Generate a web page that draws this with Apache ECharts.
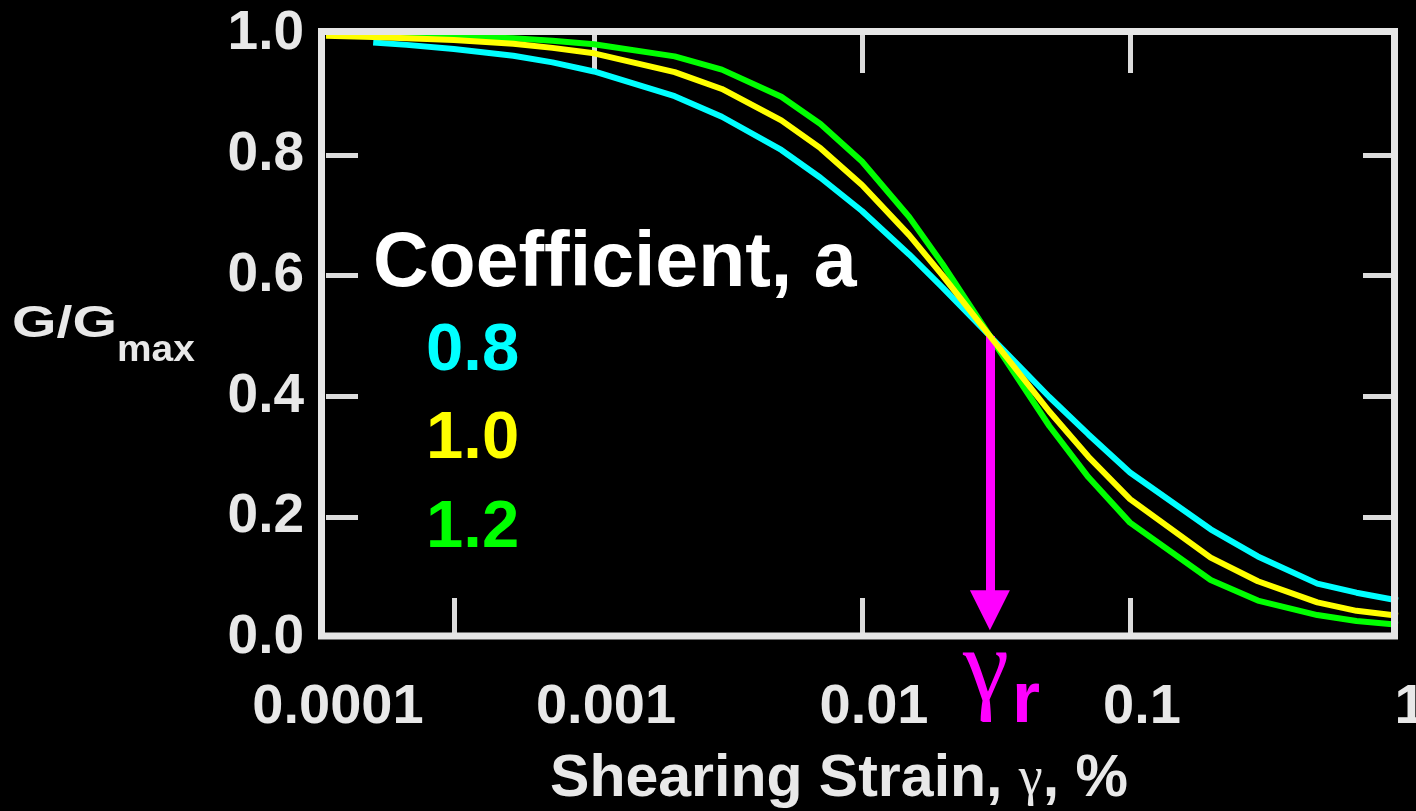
<!DOCTYPE html>
<html>
<head>
<meta charset="utf-8">
<script src="https://cdn.jsdelivr.net/npm/echarts@6/dist/echarts.min.js"></script>
<style>
html,body{margin:0;padding:0;background:#000;}
#chart{width:1416px;height:811px;}
</style>
</head>
<body>
<div id="chart"></div>
<script>
// ---- data ----
const strain = [0.0001, 0.00015, 0.0002, 0.0003, 0.0005, 0.0007, 0.001, 0.002, 0.003, 0.005, 0.007,
                0.01, 0.015, 0.02, 0.03, 0.05, 0.07, 0.1, 0.2, 0.3, 0.5, 0.7, 1];
const ratioA08 = [null, 0.986, 0.982, 0.975, 0.964, 0.953, 0.938, 0.897, 0.863, 0.808, 0.762,
                  0.707, 0.635, 0.580, 0.500, 0.399, 0.337, 0.274, 0.180, 0.135, 0.090, 0.075, 0.062];
const ratioA10 = [0.997, 0.995, 0.993, 0.990, 0.984, 0.977, 0.968, 0.937, 0.909, 0.857, 0.811,
                  0.750, 0.667, 0.600, 0.500, 0.375, 0.300, 0.230, 0.133, 0.094, 0.059, 0.045, 0.037];
const ratioA12 = [0.999, 0.998, 0.998, 0.996, 0.993, 0.989, 0.983, 0.963, 0.941, 0.896, 0.851,
                  0.789, 0.697, 0.619, 0.500, 0.351, 0.266, 0.191, 0.096, 0.062, 0.038, 0.028, 0.022];
const coefLabels = ['0.8', '1.0', '1.2'];
const xTickLabels = ['0.0001', '0.001', '0.01', '0.1', '1'];
const yTickLabels = ['0.0', '0.2', '0.4', '0.6', '0.8', '1.0'];
const bottomTicks = [0.0003, 0.01, 0.1];
const topTicks = [0.001, 0.01, 0.1];
const sideTicks = [0.2, 0.4, 0.6, 0.8];
const gammaR = 0.03;
const arrowTop = 0.5;
const arrowEnd = 0.046;

// ---- chart ----
const FONT = "'Liberation Sans', Arial, sans-serif";
const SERIF = "'Liberation Serif', 'DejaVu Serif', serif";
const GREY = '#e8e8e8';
const TICK = '#dcdcdc';
const pairs = vals => strain.map((x, i) => [x, vals[i]]);

const chart = echarts.init(document.getElementById('chart'), null, {renderer: 'canvas'});

const xBase = {
  type: 'log', logBase: 10, min: 0.0001, max: 1,
  splitLine: {show: false}, axisLine: {show: false, onZero: false},
  minorTick: {show: false}
};
const yBase = {
  type: 'value', min: 0, max: 1, interval: 0.2,
  splitLine: {show: false}, axisLine: {show: false, onZero: false}
};

chart.setOption({
  backgroundColor: '#000',
  animation: false,
  grid: {left: 326, right: 18, top: 34, bottom: 173, containLabel: false, outerBoundsMode: 'none'},
  xAxis: [
    Object.assign({}, xBase, {
      position: 'bottom',
      axisTick: {show: true, inside: true, length: 40, lineStyle: {color: TICK, width: 5},
                 customValues: bottomTicks},
      axisLabel: {
        show: true, margin: 42, color: GREY, fontSize: 56, fontWeight: 'bold', fontFamily: FONT,
        padding: [0, 0, 0, 24],
        formatter: v => xTickLabels[Math.round(Math.log10(v)) + 4]
      }
    }),
    Object.assign({}, xBase, {
      position: 'top',
      axisTick: {show: true, inside: true, length: 39, lineStyle: {color: TICK, width: 5},
                 customValues: topTicks},
      axisLabel: {show: false}
    })
  ],
  yAxis: [
    Object.assign({}, yBase, {
      position: 'left',
      axisTick: {show: true, inside: true, length: 32, lineStyle: {color: TICK, width: 5},
                 customValues: sideTicks},
      axisLabel: {
        show: true, margin: 22, color: GREY, fontSize: 55, fontWeight: 'bold', fontFamily: FONT,
        formatter: v => yTickLabels[Math.round(v * 5)]
      }
    }),
    Object.assign({}, yBase, {
      position: 'right', offset: -4,
      axisTick: {show: true, inside: true, length: 31, lineStyle: {color: TICK, width: 5},
                 customValues: sideTicks},
      axisLabel: {show: false}
    })
  ],
  series: [
    {
      name: coefLabels[0], type: 'line', data: pairs(ratioA08), xAxisIndex: 0, yAxisIndex: 0,
      showSymbol: false, symbol: 'none', smooth: false, connectNulls: false,
      lineStyle: {color: '#00ffff', width: 6}, z: 3, silent: true,
      markLine: {
        silent: true, animation: false,
        symbol: ['none', 'triangle'], symbolSize: 40,
        label: {show: false},
        lineStyle: {color: '#ff00ff', width: 9, type: 'solid'},
        itemStyle: {color: '#ff00ff'},
        emphasis: {disabled: true},
        data: [[{coord: [gammaR, arrowTop]}, {coord: [gammaR, arrowEnd]}]]
      }
    },
    {
      name: coefLabels[2], type: 'line', data: pairs(ratioA12),
      showSymbol: false, symbol: 'none', smooth: false,
      lineStyle: {color: '#00ff00', width: 6}, z: 4, silent: true
    },
    {
      name: coefLabels[1], type: 'line', data: pairs(ratioA10),
      showSymbol: false, symbol: 'none', smooth: false,
      lineStyle: {color: '#ffff00', width: 6}, z: 5, silent: true
    }
  ],
  graphic: [
    {type: 'rect', z: 100, silent: true,
     shape: {x: 321.5, y: 31.5, width: 1073, height: 604.5},
     style: {fill: 'none', stroke: '#e6e6e6', lineWidth: 7}},
    {type: 'text', x: 373, y: 265, z: 50, silent: true,
     style: {text: 'Coefficient, a', fill: '#ffffff', font: "bold 77px " + FONT, verticalAlign: 'middle', align: 'left'}},
    {type: 'text', x: 426, y: 352, z: 50, silent: true,
     style: {text: coefLabels[0], fill: '#00ffff', font: "bold 67px " + FONT, verticalAlign: 'middle', align: 'left'}},
    {type: 'text', x: 426, y: 440, z: 50, silent: true,
     style: {text: coefLabels[1], fill: '#ffff00', font: "bold 67px " + FONT, verticalAlign: 'middle', align: 'left'}},
    {type: 'text', x: 426, y: 529, z: 50, silent: true,
     style: {text: coefLabels[2], fill: '#00ff00', font: "bold 67px " + FONT, verticalAlign: 'middle', align: 'left'}},
    {type: 'text', x: 12, y: 325, scaleX: 1.3, z: 50, silent: true,
     style: {text: 'G/G', fill: GREY, font: "bold 44px " + FONT, verticalAlign: 'middle', align: 'left'}},
    {type: 'text', x: 117, y: 351, scaleX: 1.05, z: 50, silent: true,
     style: {text: 'max', fill: GREY, font: "bold 37px " + FONT, verticalAlign: 'middle', align: 'left'}},
    {type: 'text', x: 839, y: 780, z: 50, silent: true,
     style: {
       text: '{a|Shearing Strain, }{g|γ}{a|, %}',
       align: 'center', verticalAlign: 'middle',
       rich: {
         a: {fill: GREY, fontSize: 59, fontWeight: 'bold', fontFamily: FONT},
         g: {fill: GREY, fontSize: 54, fontWeight: 'normal', fontFamily: SERIF}
       }
     }},
    {type: 'text', x: 1009, y: 673, z: 50, silent: true,
     style: {text: 'γ', fill: '#ff00ff', font: "normal 104px " + SERIF, verticalAlign: 'middle', align: 'right'}},
    {type: 'text', x: 1012, y: 702, z: 50, silent: true,
     style: {text: 'r', fill: '#ff00ff', font: "bold 72px " + FONT, verticalAlign: 'middle', align: 'left'}}
  ]
});
</script>
</body>
</html>
